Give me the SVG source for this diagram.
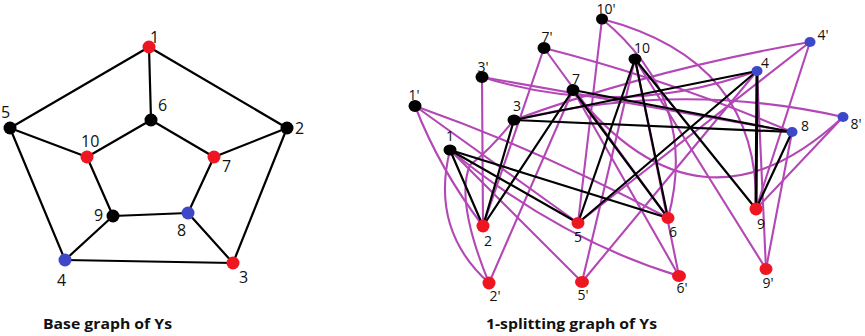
<svg xmlns="http://www.w3.org/2000/svg" width="865" height="336" viewBox="0 0 865 336">
<style>
.e{stroke:#000;stroke-width:2.2;fill:none;stroke-linecap:round}
.eb{stroke:#000;stroke-width:2.2;fill:none;stroke-linecap:round}
.m{stroke:#b347b5;stroke-width:2.1;fill:none;stroke-linecap:round}
.k{fill:#000}.r{fill:#ee1620}.b{fill:#3d47c8}
.lab{font-family:"Open Sans","Liberation Sans",sans-serif;font-size:16px;fill:#111}
.lab2{font-family:"Open Sans","Liberation Sans",sans-serif;font-size:14px;fill:#111;text-anchor:middle}
.cap{font-family:"Open Sans","Liberation Sans",sans-serif;font-size:15px;font-weight:bold;fill:#111}
</style>
<rect width="865" height="336" fill="#fff"/>
<g id="base-edges">
<line class="e" x1="149" y1="47" x2="10" y2="128"/>
<line class="e" x1="149" y1="47" x2="287" y2="128"/>
<line class="e" x1="149" y1="47" x2="151" y2="120"/>
<line class="e" x1="10" y1="128" x2="87" y2="157"/>
<line class="e" x1="10" y1="128" x2="65" y2="260"/>
<line class="e" x1="287" y1="128" x2="214" y2="157"/>
<line class="e" x1="287" y1="128" x2="233" y2="263"/>
<line class="e" x1="151" y1="120" x2="87" y2="157"/>
<line class="e" x1="151" y1="120" x2="214" y2="157"/>
<line class="e" x1="87" y1="157" x2="113" y2="216"/>
<line class="e" x1="214" y1="157" x2="188" y2="213"/>
<line class="e" x1="113" y1="216" x2="188" y2="213"/>
<line class="e" x1="113" y1="216" x2="65" y2="260"/>
<line class="e" x1="188" y1="213" x2="233" y2="263"/>
<line class="e" x1="65" y1="260" x2="233" y2="263"/>
</g>
<g id="b1"><circle class="r" cx="149" cy="47" r="6.5"/><text class="lab" x="150" y="43">1</text></g>
<g id="b2"><circle class="k" cx="287" cy="128" r="6.5"/><text class="lab" x="295" y="134">2</text></g>
<g id="b3"><circle class="r" cx="233" cy="263" r="6.5"/><text class="lab" x="239" y="283">3</text></g>
<g id="b4"><circle class="b" cx="65" cy="260" r="6.5"/><text class="lab" x="57" y="286">4</text></g>
<g id="b5"><circle class="k" cx="10" cy="128" r="6.5"/><text class="lab" x="1" y="118">5</text></g>
<g id="b6"><circle class="k" cx="151" cy="120" r="6.5"/><text class="lab" x="158" y="111">6</text></g>
<g id="b7"><circle class="r" cx="214" cy="157" r="6.5"/><text class="lab" x="222" y="172">7</text></g>
<g id="b8"><circle class="b" cx="188" cy="213" r="6.5"/><text class="lab" x="177" y="236">8</text></g>
<g id="b9"><circle class="k" cx="113" cy="216" r="6.5"/><text class="lab" x="94" y="221">9</text></g>
<g id="b10"><circle class="r" cx="87" cy="157" r="6.5"/><text class="lab" x="81" y="147">10</text></g>
<text class="cap" x="43" y="329" textLength="129" lengthAdjust="spacingAndGlyphs">Base graph of Ys</text>

<g id="split-edges">
<path class="m" d="M415,106 Q440,170 483,226"/>
<path class="m" d="M415,106 L578,223"/>
<path class="m" d="M415,106 Q540,150 668,218"/>
<path class="m" d="M489,283 Q430,230 450,150"/>
<path class="m" d="M489,283 Q455,200 470,165 Q490,150 514,120"/>
<path class="m" d="M489,283 L573,90"/>
<path class="m" d="M482,77 L483,226"/>
<path class="m" d="M482,77 Q620,120 757,71"/>
<path class="m" d="M482,77 L792,132"/>
<path class="m" d="M810,42 Q650,70 514,120"/>
<path class="m" d="M810,42 L578,223"/>
<path class="m" d="M810,42 L756,209"/>
<path class="m" d="M582,282 Q500,200 450,150"/>
<path class="m" d="M582,282 L757,71"/>
<path class="m" d="M582,282 L635,59"/>
<path class="m" d="M679,276 Q560,240 450,150"/>
<path class="m" d="M679,276 L573,90"/>
<path class="m" d="M679,276 L635,59"/>
<path class="m" d="M544,48 L483,226"/>
<path class="m" d="M544,48 L668,218"/>
<path class="m" d="M544,48 Q670,80 792,132"/>
<path class="m" d="M843,117 Q680,80 514,120"/>
<path class="m" d="M843,117 Q700,250 573,90"/>
<path class="m" d="M843,117 L756,209"/>
<path class="m" d="M766,269 L757,71"/>
<path class="m" d="M766,269 L792,132"/>
<path class="m" d="M766,269 L635,59"/>
<path class="m" d="M602,19 L578,223"/>
<path class="m" d="M602,19 Q700,100 668,218"/>
<path class="m" d="M602,19 Q760,60 756,209"/>

<line class="eb" x1="450" y1="150" x2="483" y2="226"/>
<line class="eb" x1="450" y1="150" x2="578" y2="223"/>
<line class="eb" x1="450" y1="150" x2="668" y2="218"/>
<line class="eb" x1="514" y1="120" x2="483" y2="226"/>
<line class="eb" x1="514" y1="120" x2="757" y2="71"/>
<line class="eb" x1="514" y1="120" x2="792" y2="132"/>
<line class="eb" x1="573" y1="90" x2="483" y2="226"/>
<line class="eb" x1="573" y1="90" x2="668" y2="218"/>
<line class="eb" x1="573" y1="90" x2="792" y2="132"/>
<line class="eb" x1="635" y1="59" x2="578" y2="223"/>
<line class="eb" x1="635" y1="59" x2="668" y2="218"/>
<line class="eb" x1="635" y1="59" x2="756" y2="209"/>
<line class="eb" x1="757" y1="71" x2="578" y2="223"/>
<line class="eb" x1="757" y1="71" x2="756" y2="209" style="stroke-width:3"/>
<line class="eb" x1="792" y1="132" x2="756" y2="209"/>
</g>

<g id="n1"><ellipse class="k" cx="450" cy="150" rx="6.5" ry="5.5"/><text class="lab2" x="450" y="141">1</text></g>
<g id="n2"><ellipse class="r" cx="483" cy="226" rx="6.5" ry="6.5"/><text class="lab2" x="488" y="246">2</text></g>
<g id="n3"><ellipse class="k" cx="514" cy="120" rx="6.5" ry="5.5"/><text class="lab2" x="517" y="111">3</text></g>
<g id="n4"><ellipse class="b" cx="757" cy="71" rx="5.5" ry="5"/><text class="lab2" x="765" y="68">4</text></g>
<g id="n5"><ellipse class="r" cx="578" cy="223" rx="6.5" ry="6"/><text class="lab2" x="578" y="242">5</text></g>
<g id="n6"><ellipse class="r" cx="668" cy="218" rx="6.5" ry="6"/><text class="lab2" x="673" y="237">6</text></g>
<g id="n7"><ellipse class="k" cx="573" cy="90" rx="6.5" ry="6"/><text class="lab2" x="576" y="84">7</text></g>
<g id="n8"><ellipse class="b" cx="792" cy="132" rx="5.5" ry="5"/><text class="lab2" x="805" y="131">8</text></g>
<g id="n9"><ellipse class="r" cx="756" cy="209" rx="6.5" ry="6.5"/><text class="lab2" x="761" y="229">9</text></g>
<g id="n10"><ellipse class="k" cx="635" cy="59" rx="6.5" ry="5.5"/><text class="lab2" x="642" y="53">10</text></g>
<g id="n1p"><ellipse class="k" cx="415" cy="106" rx="6.5" ry="6"/><text class="lab2" x="414" y="100">1'</text></g>
<g id="n2p"><ellipse class="r" cx="489" cy="283" rx="6.5" ry="6.5"/><text class="lab2" x="495" y="301">2'</text></g>
<g id="n3p"><ellipse class="k" cx="482" cy="77" rx="6.5" ry="6"/><text class="lab2" x="483" y="72">3'</text></g>
<g id="n4p"><ellipse class="b" cx="810" cy="42" rx="5.5" ry="5"/><text class="lab2" x="823" y="40">4'</text></g>
<g id="n5p"><ellipse class="r" cx="582" cy="282" rx="7" ry="6"/><text class="lab2" x="583" y="300">5'</text></g>
<g id="n6p"><ellipse class="r" cx="679" cy="276" rx="7" ry="6"/><text class="lab2" x="682" y="293">6'</text></g>
<g id="n7p"><ellipse class="k" cx="544" cy="48" rx="6.5" ry="6"/><text class="lab2" x="547" y="42">7'</text></g>
<g id="n8p"><ellipse class="b" cx="843" cy="117" rx="5.5" ry="5"/><text class="lab2" x="856" y="129">8'</text></g>
<g id="n9p"><ellipse class="r" cx="766" cy="269" rx="6.5" ry="6"/><text class="lab2" x="768" y="288">9'</text></g>
<g id="n10p"><ellipse class="k" cx="602" cy="19" rx="6" ry="5.5"/><text class="lab2" x="606" y="13.5">10'</text></g>
<text class="cap" x="486" y="329" textLength="171" lengthAdjust="spacingAndGlyphs">1-splitting graph of Ys</text>
</svg>
